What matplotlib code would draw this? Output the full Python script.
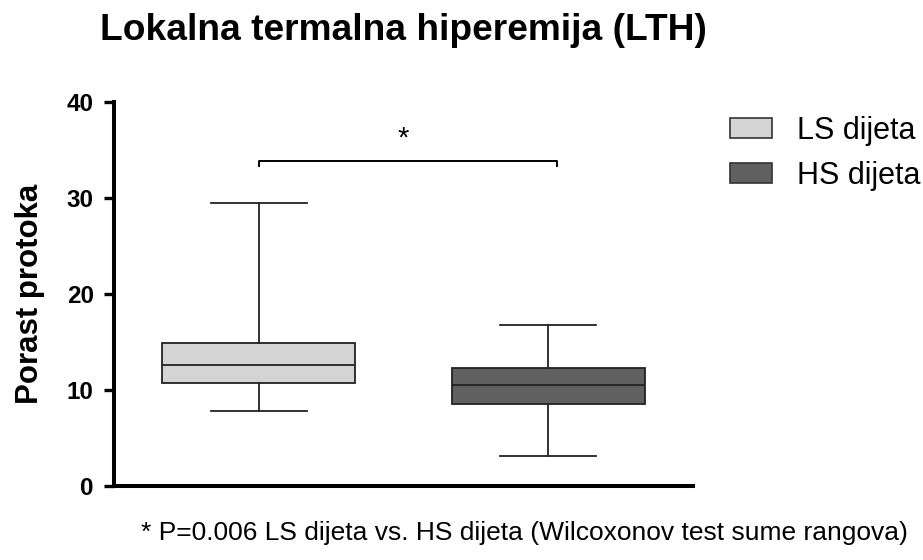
import matplotlib
matplotlib.use("Agg")
import matplotlib.pyplot as plt
from matplotlib.patches import Patch

plt.rcParams['font.family'] = ['Liberation Sans', 'DejaVu Sans']

# Box statistics (min, Q1, median, Q3, max)
groups = ["LS dijeta", "HS dijeta"]
whisker_low = [7.85, 3.15]
q1 = [10.7, 8.6]
median = [12.6, 10.55]
q3 = [14.95, 12.3]
whisker_high = [29.55, 16.8]
fills = ["#d4d4d4", "#606060"]

stats = []
for i, name in enumerate(groups):
    stats.append({"label": name, "whislo": whisker_low[i], "q1": q1[i], "med": median[i],
                  "q3": q3[i], "whishi": whisker_high[i], "fliers": []})

fig = plt.figure(figsize=(9.23, 5.6), dpi=100)
ax = fig.add_axes([0.1235, 0.132, 0.6273, 0.6853])

bp = ax.bxp(stats, positions=[1, 2], widths=0.666, patch_artist=True, showfliers=False,
            boxprops=dict(linewidth=1.3, edgecolor="#222222"),
            medianprops=dict(color="#222222", linewidth=1.3),
            whiskerprops=dict(color="#222222", linewidth=1.3),
            capprops=dict(color="#222222", linewidth=1.3), capwidths=0.333)
for patch, c in zip(bp["boxes"], fills):
    patch.set_facecolor(c)

# significance bracket
ax.plot([1, 1, 2.03, 2.03], [33.4, 33.9, 33.9, 33.4], color="black", linewidth=1.4)
ax.text(1.5, 36.2, "*", ha="center", va="center", fontsize=21)

ax.set_xlim(0.5, 2.5)
ax.set_ylim(0, 40)
ax.set_yticks([0, 10, 20, 30, 40])
ax.set_xticks([])
ax.spines["top"].set_visible(False)
ax.spines["right"].set_visible(False)
ax.spines["left"].set_linewidth(2.9)
ax.spines["bottom"].set_linewidth(2.9)
ax.tick_params(axis="y", length=7, width=2.4, labelsize=17.5, pad=7.5)
for lab in ax.get_yticklabels():
    lab.set_fontweight("bold")
ax.set_ylabel("Porast protoka", fontsize=22.5, fontweight="bold", labelpad=16)

ax.set_title("Lokalna termalna hiperemija (LTH)", fontsize=26.7, fontweight="bold", pad=45)

handles = [Patch(facecolor=c, edgecolor="#333333", linewidth=1.2) for c in fills]
fig.legend(handles, groups, loc="upper left", bbox_to_anchor=(0.791, 0.793), frameon=False,
           borderpad=0, borderaxespad=0,
           fontsize=22, handlelength=1.37, handleheight=0.65, labelspacing=0.48, handletextpad=0.82)

fig.text(0.568, 0.048, "* P=0.006 LS dijeta vs. HS dijeta (Wilcoxonov test sume rangova)",
         ha="center", va="center", fontsize=19)

fig.savefig("out.png", dpi=100)
